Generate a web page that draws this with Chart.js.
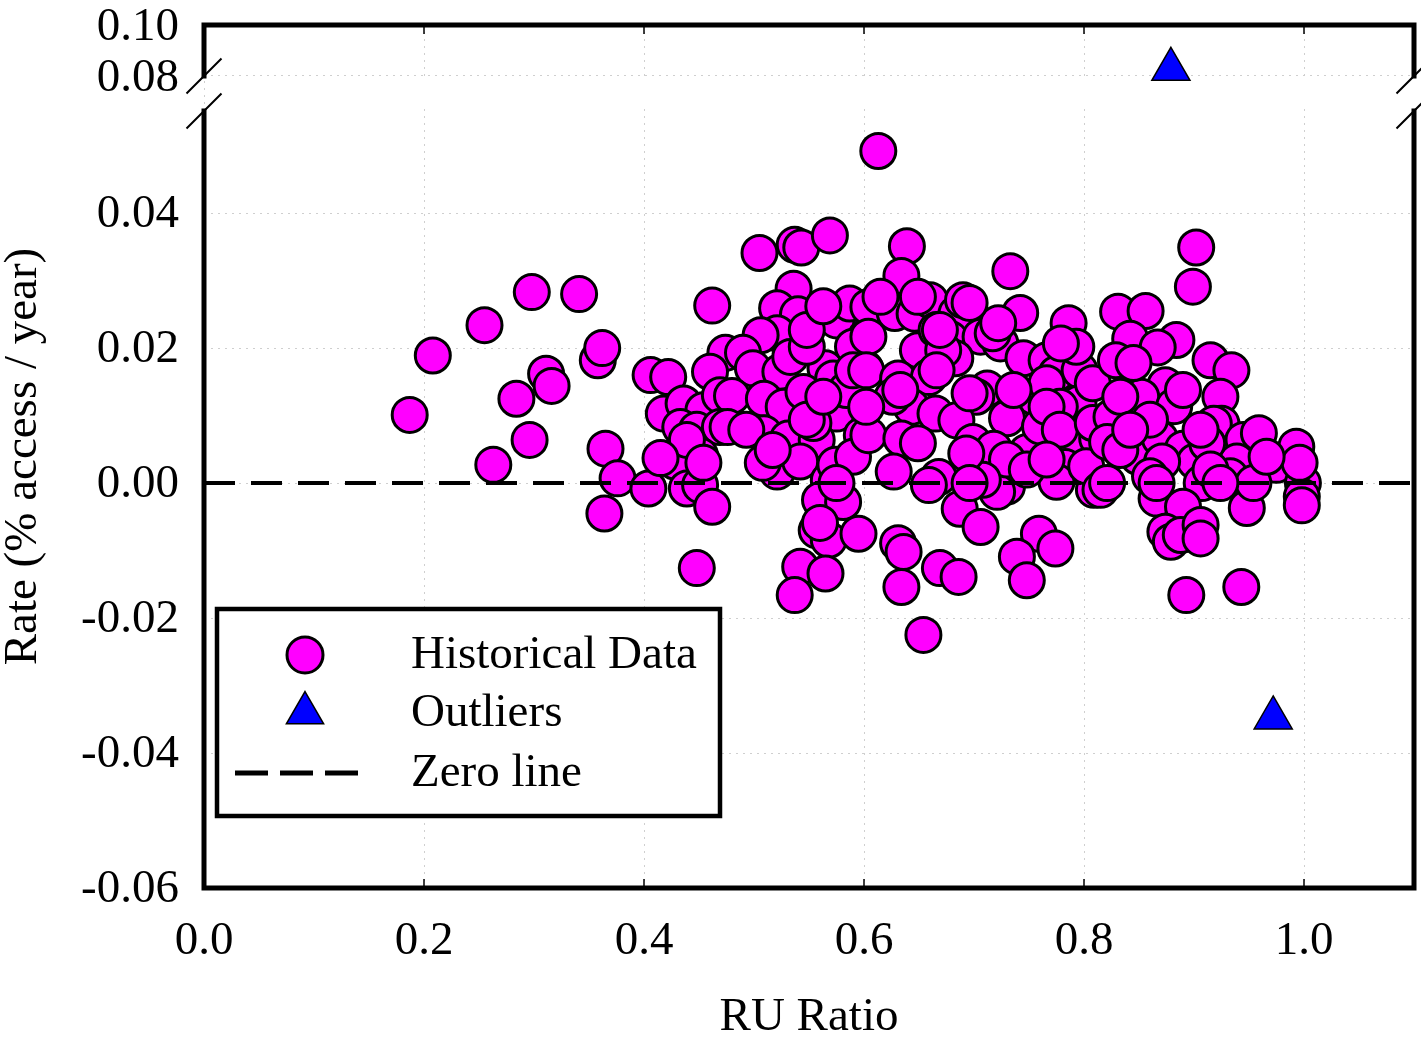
<!DOCTYPE html>
<html>
<head>
<meta charset="utf-8">
<script src="https://cdn.jsdelivr.net/npm/chart.js@4/dist/chart.umd.min.js"></script>
<style>
  html, body { margin: 0; padding: 0; background: #fff; overflow: hidden; }
  #rateChart { display: block; }
</style>
</head>
<body>
<canvas id="rateChart" width="1421" height="1037"></canvas>
<script>
// RU ratio vs rate: [RU ratio, rate]
const historical = [
  [0.187, 0.0101], [0.208, 0.0189], [0.255, 0.0234], [0.298, 0.0283], [0.341, 0.0280],
  [0.263, 0.0027], [0.284, 0.0125], [0.296, 0.0064], [0.311, 0.0162], [0.316, 0.0144],
  [0.358, 0.0182], [0.362, 0.0200], [0.365, 0.0051], [0.376, 0.0007], [0.364, -0.0045],
  [0.505, 0.0341], [0.537, 0.0353], [0.543, 0.0349], [0.569, 0.0367], [0.462, 0.0263],
  [0.536, 0.0288], [0.521, 0.0259], [0.540, 0.0250], [0.575, 0.0241], [0.587, 0.0266],
  [0.521, 0.0222], [0.506, 0.0219], [0.602, 0.0217], [0.474, 0.0193], [0.490, 0.0193],
  [0.499, 0.0170], [0.524, 0.0165], [0.533, 0.0187], [0.565, 0.0170], [0.572, 0.0155],
  [0.601, 0.0170], [0.406, 0.0160], [0.422, 0.0157], [0.460, 0.0165], [0.418, 0.0103],
  [0.436, 0.0118], [0.454, 0.0108], [0.469, 0.0130], [0.480, 0.0129], [0.433, 0.0083],
  [0.448, 0.0079], [0.469, 0.0083], [0.509, 0.0125], [0.527, 0.0113], [0.545, 0.0135],
  [0.575, 0.0103], [0.509, 0.0074], [0.531, 0.0066], [0.557, 0.0064], [0.598, 0.0071],
  [0.425, 0.0037], [0.451, 0.0041], [0.428, 0.0032], [0.404, -0.0008], [0.439, -0.0008],
  [0.451, -0.0003], [0.462, -0.0035], [0.448, -0.0126], [0.521, 0.0017], [0.542, 0.0032],
  [0.568, 0.0004], [0.574, 0.0027], [0.560, -0.0025], [0.581, -0.0028], [0.557, -0.0070],
  [0.568, -0.0084], [0.595, -0.0075], [0.542, -0.0124], [0.565, -0.0134], [0.537, -0.0166],
  [0.548, 0.0202], [0.590, 0.0202], [0.508, 0.0030], [0.554, 0.0089], [0.584, 0.0138],
  [0.590, 0.0039], [0.575, 0.0000], [0.560, -0.0059], [0.476, 0.0083],
  [0.439, 0.0064], [0.415, 0.0037], [0.454, 0.0030], [0.493, 0.0079], [0.517, 0.0049],
  [0.548, 0.0094], [0.563, 0.0128], [0.590, 0.0167], [0.548, 0.0227], [0.563, 0.0262],
  [0.613, 0.0492], [0.639, 0.0351], [0.634, 0.0307], [0.733, 0.0314], [0.604, 0.0261],
  [0.628, 0.0252], [0.646, 0.0251], [0.660, 0.0271], [0.684, 0.0251], [0.690, 0.0271],
  [0.678, 0.0214], [0.706, 0.0217], [0.724, 0.0207], [0.742, 0.0252], [0.786, 0.0237],
  [0.604, 0.0217], [0.649, 0.0197], [0.683, 0.0185], [0.602, 0.0167], [0.631, 0.0155],
  [0.659, 0.0157], [0.745, 0.0185], [0.766, 0.0182], [0.775, 0.0162], [0.796, 0.0167],
  [0.793, 0.0202], [0.712, 0.0140], [0.702, 0.0128], [0.754, 0.0128], [0.795, 0.0118],
  [0.643, 0.0113], [0.665, 0.0103], [0.684, 0.0093], [0.730, 0.0096], [0.604, 0.0071],
  [0.634, 0.0066], [0.649, 0.0059], [0.699, 0.0061], [0.718, 0.0051], [0.748, 0.0046],
  [0.793, 0.0056], [0.812, 0.0066], [0.783, 0.0024], [0.627, 0.0017], [0.668, 0.0009],
  [0.659, -0.0003], [0.730, -0.0005], [0.721, -0.0013], [0.775, 0.0002], [0.809, -0.0010],
  [0.687, -0.0038], [0.706, -0.0065], [0.631, -0.0089], [0.636, -0.0102], [0.634, -0.0154],
  [0.669, -0.0126], [0.686, -0.0139], [0.654, -0.0225], [0.759, -0.0075], [0.774, -0.0097],
  [0.739, -0.0109], [0.748, -0.0144],
  [0.717, 0.0222], [0.722, 0.0237], [0.666, 0.0227], [0.672, 0.0197], [0.626, 0.0128],
  [0.766, 0.0148], [0.778, 0.0113], [0.760, 0.0084], [0.730, 0.0035], [0.708, 0.0005],
  [0.748, 0.0020], [0.779, 0.0207], [0.808, 0.0148],
  [0.615, 0.0276], [0.649, 0.0276], [0.696, 0.0267], [0.669, 0.0227], [0.666, 0.0167],
  [0.633, 0.0138], [0.602, 0.0113], [0.696, 0.0133], [0.736, 0.0138], [0.766, 0.0113],
  [0.778, 0.0079], [0.808, 0.0089], [0.693, 0.0044], [0.766, 0.0035], [0.802, 0.0025],
  [0.696, 0.0000],
  [0.902, 0.0349], [0.899, 0.0291], [0.831, 0.0254], [0.856, 0.0255], [0.842, 0.0214],
  [0.884, 0.0212], [0.867, 0.0201], [0.829, 0.0182], [0.915, 0.0182], [0.934, 0.0167],
  [0.874, 0.0145], [0.852, 0.0128], [0.882, 0.0114], [0.924, 0.0128], [0.925, 0.0088],
  [0.918, 0.0088], [0.945, 0.0064], [0.959, 0.0074], [0.825, 0.0098], [0.821, 0.0061],
  [0.849, 0.0039], [0.869, 0.0066], [0.890, 0.0051], [0.901, 0.0032], [0.871, 0.0032],
  [0.939, 0.0032], [0.975, 0.0027], [0.993, 0.0054], [0.999, 0.0000], [0.998, -0.0020],
  [0.998, -0.0033], [0.815, -0.0010], [0.866, -0.0023], [0.907, 0.0000], [0.890, -0.0035],
  [0.948, -0.0037], [0.874, -0.0072], [0.879, -0.0087], [0.888, -0.0077], [0.906, -0.0062],
  [0.906, -0.0082], [0.893, -0.0166], [0.943, -0.0154],
  [0.845, 0.0178], [0.860, 0.0094], [0.833, 0.0049], [0.821, 0.0000], [0.860, 0.0010],
  [0.912, 0.0059], [0.933, 0.0010], [0.954, 0.0000], [0.915, 0.0020], [0.996, 0.0030],
  [0.833, 0.0128], [0.842, 0.0079], [0.890, 0.0138], [0.906, 0.0079], [0.866, 0.0000],
  [0.924, 0.0000], [0.966, 0.0039]
];

const outlierLow = [[0.972, -0.0348]];
const outlierHigh = [[0.879, 0.0826]];
const zeroLine = [[0.0, 0], [1.1, 0]];

const xTicks = [0.0, 0.2, 0.4, 0.6, 0.8, 1.0];
const yTicksLower = [-0.06, -0.04, -0.02, 0.00, 0.02, 0.04];
const yTicksUpper = [0.08, 0.10];

const FONT = "'Liberation Serif', 'Times New Roman', serif";
const FS = 47;
Chart.defaults.font.family = FONT;
Chart.defaults.font.size = FS;
Chart.defaults.color = '#000';

const toXY = arr => arr.map(p => ({ x: p[0], y: p[1] }));
const gridStyle = { color: '#cfcfcf', lineWidth: 1, drawTicks: false };

// frame with the axis break, inward x ticks and the boxed legend
const brokenAxis = {
  id: 'brokenAxis',
  beforeDatasetsDraw(chart) {
    const { ctx, chartArea } = chart;
    const mid = chart.scales.yTop.bottom;
    ctx.save();
    ctx.fillStyle = '#fff';
    ctx.fillRect(chartArea.left + 3, mid - 12, chartArea.width - 6, 28);
    ctx.restore();
  },
  afterDraw(chart) {
    const { ctx, chartArea } = chart;
    const { left, right, top, bottom } = chartArea;
    const mid = chart.scales.yTop.bottom;
    const b1 = mid - 17, b2 = mid + 18;
    ctx.save();
    ctx.strokeStyle = '#000';
    ctx.lineWidth = 5;
    ctx.lineCap = 'square';
    ctx.beginPath();
    ctx.moveTo(left, top); ctx.lineTo(right, top);
    ctx.moveTo(left, bottom); ctx.lineTo(right, bottom);
    ctx.moveTo(left, top); ctx.lineTo(left, b1);
    ctx.moveTo(left, b2); ctx.lineTo(left, bottom);
    ctx.moveTo(right, top); ctx.lineTo(right, b1);
    ctx.moveTo(right, b2); ctx.lineTo(right, bottom);
    ctx.stroke();

    ctx.lineCap = 'butt';
    ctx.lineWidth = 2;
    ctx.beginPath();
    [left, right].forEach(x => {
      [b1, b2].forEach(y => {
        ctx.moveTo(x - 17.5, y + 17.5);
        ctx.lineTo(x + 17.5, y - 17.5);
      });
    });
    ctx.stroke();

    const xs = chart.scales.x;
    ctx.lineWidth = 1.5;
    ctx.beginPath();
    xTicks.forEach(v => {
      const px = xs.getPixelForValue(v);
      if (v === 0) return;
      ctx.moveTo(px, bottom); ctx.lineTo(px, bottom - 9);
      ctx.moveTo(px, top); ctx.lineTo(px, top + 9);
    });
    ctx.stroke();

    // legend
    const lx = left + 13, ly = bottom - 279, lw = 503, lh = 207;
    ctx.fillStyle = '#fff';
    ctx.fillRect(lx, ly, lw, lh);
    ctx.lineWidth = 4.5;
    ctx.strokeRect(lx, ly, lw, lh);

    const mx = lx + 88, tx = lx + 194;
    const rows = [ly + 46, ly + 104, ly + 164];

    ctx.lineWidth = 3;
    ctx.fillStyle = '#ff00ff';
    ctx.beginPath();
    ctx.arc(mx, rows[0], 18, 0, Math.PI * 2);
    ctx.fill(); ctx.stroke();

    const r = 21.5;
    ctx.lineWidth = 1.5;
    ctx.fillStyle = '#0000ff';
    ctx.beginPath();
    ctx.moveTo(mx, rows[1] - r);
    ctx.lineTo(mx + r * Math.sin(2 * Math.PI / 3), rows[1] + r / 2);
    ctx.lineTo(mx - r * Math.sin(2 * Math.PI / 3), rows[1] + r / 2);
    ctx.closePath();
    ctx.fill(); ctx.stroke();

    ctx.lineWidth = 5;
    ctx.setLineDash([33, 12]);
    ctx.beginPath();
    ctx.moveTo(lx + 18, rows[2]); ctx.lineTo(lx + 141, rows[2]);
    ctx.stroke();
    ctx.setLineDash([]);

    ctx.fillStyle = '#000';
    ctx.font = FS + 'px ' + FONT;
    ctx.textAlign = 'left';
    ctx.textBaseline = 'middle';
    ctx.fillText('Historical Data', tx, rows[0] + 1);
    ctx.fillText('Outliers', tx, rows[1] + 1);
    ctx.fillText('Zero line', tx, rows[2] + 1);
    ctx.restore();
  }
};

new Chart(document.getElementById('rateChart').getContext('2d'), {
  type: 'scatter',
  data: {
    datasets: [
      {
        label: 'Historical Data',
        data: toXY(historical),
        yAxisID: 'y',
        backgroundColor: '#ff00ff',
        borderColor: '#000',
        borderWidth: 3,
        pointRadius: 17.5,
        order: 3
      },
      {
        label: 'Outliers',
        data: toXY(outlierLow),
        yAxisID: 'y',
        pointStyle: 'triangle',
        backgroundColor: '#0000ff',
        borderColor: '#000',
        borderWidth: 1.5,
        pointRadius: 22,
        order: 2
      },
      {
        label: 'Outliers (upper)',
        data: toXY(outlierHigh),
        yAxisID: 'yTop',
        pointStyle: 'triangle',
        backgroundColor: '#0000ff',
        borderColor: '#000',
        borderWidth: 1.5,
        pointRadius: 22,
        order: 2
      },
      {
        type: 'line',
        label: 'Zero line',
        data: toXY(zeroLine),
        yAxisID: 'y',
        borderColor: '#000',
        borderWidth: 4,
        borderDash: [31, 16],
        pointRadius: 0,
        fill: false,
        order: 0
      }
    ]
  },
  options: {
    responsive: false,
    animation: false,
    events: [],
    layout: { autoPadding: false, padding: { top: 25, right: 7, bottom: 0, left: 0 } },
    plugins: { legend: { display: false }, tooltip: { enabled: false } },
    scales: {
      x: {
        type: 'linear',
        position: 'bottom',
        min: 0,
        max: 1.1,
        afterBuildTicks: s => { s.ticks = xTicks.map(v => ({ value: v })); },
        afterFit: s => { s.height = 149; s.paddingLeft = 0; s.paddingRight = 0; },
        ticks: { callback: v => v.toFixed(1), padding: 30, maxRotation: 0, autoSkip: false, font: { size: FS, lineHeight: 1 } },
        grid: gridStyle,
        border: { display: false, dash: [2, 5] },
        title: { display: true, text: 'RU Ratio', font: { size: FS, lineHeight: 1 }, padding: { top: 0, bottom: -4 } }
      },
      yTitle: {
        type: 'linear',
        position: 'left',
        weight: 3,
        min: 0,
        max: 1,
        afterFit: s => { s.width = 60; s.paddingTop = 0; s.paddingBottom = 0; },
        ticks: { display: false },
        grid: { display: false },
        border: { display: false },
        title: { display: true, text: 'Rate (% access / year)', font: { size: FS, lineHeight: 1 }, padding: { top: 0, bottom: 0 } }
      },
      yTop: {
        type: 'linear',
        position: 'left',
        stack: 'rate',
        stackWeight: 68,
        weight: 2,
        min: 0.0733,
        max: 0.10,
        afterBuildTicks: s => { s.ticks = yTicksUpper.map(v => ({ value: v })); },
        afterFit: s => { s.width = 144; s.paddingTop = 0; s.paddingBottom = 0; },
        ticks: { callback: v => v.toFixed(2), padding: 25, labelOffset: 3, autoSkip: false, font: { size: FS, lineHeight: 1 } },
        grid: gridStyle,
        border: { display: false, dash: [2, 5] }
      },
      y: {
        type: 'linear',
        position: 'left',
        stack: 'rate',
        stackWeight: 795,
        weight: 1,
        min: -0.06,
        max: 0.0578,
        afterBuildTicks: s => { s.ticks = yTicksLower.map(v => ({ value: v })); },
        afterFit: s => { s.width = 144; s.paddingTop = 0; s.paddingBottom = 0; },
        ticks: { callback: v => v.toFixed(2), padding: 25, labelOffset: 2, autoSkip: false, font: { size: FS, lineHeight: 1 } },
        grid: gridStyle,
        border: { display: false, dash: [2, 5] }
      }
    }
  },
  plugins: [brokenAxis]
});
</script>
</body>
</html>
